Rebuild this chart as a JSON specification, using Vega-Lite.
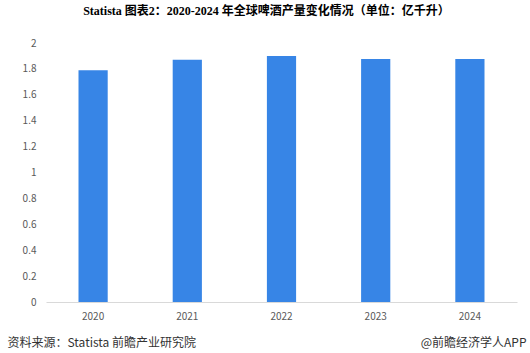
{
  "$schema": "https://vega.github.io/schema/vega-lite/v6.json",
  "width": 471,
  "height": 259,
  "autosize": {"type": "none"},
  "padding": {"left": 46, "top": 43, "right": 13, "bottom": 51},
  "background": "white",
  "config": {"view": {"stroke": null}, "font": "Noto Sans CJK SC"},
  "title": {
    "text": "Statista  图表2：2020-2024 年全球啤酒产量变化情况（单位：亿千升）",
    "font": "Liberation Serif, Noto Sans CJK SC",
    "fontSize": 12,
    "fontWeight": "bold",
    "color": "#000000",
    "anchor": "middle",
    "dx": -15,
    "offset": 20
  },
  "data": {
    "values": [
      {"year": "2020", "value": 1.79},
      {"year": "2021", "value": 1.87},
      {"year": "2022", "value": 1.90},
      {"year": "2023", "value": 1.876},
      {"year": "2024", "value": 1.876}
    ]
  },
  "layer": [
    {
      "mark": {"type": "bar", "color": "#3785E6"},
      "encoding": {
        "x": {
          "field": "year", "type": "nominal",
          "scale": {"paddingInner": 0.69, "paddingOuter": 0.345},
          "axis": {
            "orient": "bottom",
            "labelAngle": 0, "labelColor": "#595959", "labelFontSize": 10,
            "labelPadding": 9, "ticks": false, "domainColor": "#d9d9d9",
            "title": "资料来源：Statista 前瞻产业研究院",
            "titleFontSize": 12, "titleFontWeight": "normal", "titleColor": "#333333",
            "titleAnchor": "start", "titleAlign": "left", "titleBaseline": "middle",
            "titleX": -39, "titleY": 40
          }
        },
        "y": {
          "field": "value", "type": "quantitative",
          "scale": {"domain": [0, 2]},
          "axis": {
            "values": [0, 0.2, 0.4, 0.6, 0.8, 1, 1.2, 1.4, 1.6, 1.8, 2],
            "format": "~g", "grid": false, "domain": false, "ticks": false,
            "labelOverlap": false, "labelBound": false, "labelFlush": false,
            "labelColor": "#595959", "labelFontSize": 10, "labelPadding": 10,
            "title": null
          }
        }
      }
    },
    {
      "mark": {"type": "bar", "opacity": 0},
      "encoding": {
        "x": {
          "field": "year", "type": "nominal",
          "axis": {
            "orient": "bottom",
            "labels": false, "ticks": false, "domain": false,
            "title": "@前瞻经济学人APP",
            "titleFontSize": 12, "titleFontWeight": "normal", "titleColor": "#333333",
            "titleAnchor": "end", "titleAlign": "right", "titleBaseline": "middle",
            "titleX": 480, "titleY": 40
          }
        }
      }
    }
  ],
  "resolve": {"scale": {"x": "independent"}, "axis": {"x": "independent"}}
}
